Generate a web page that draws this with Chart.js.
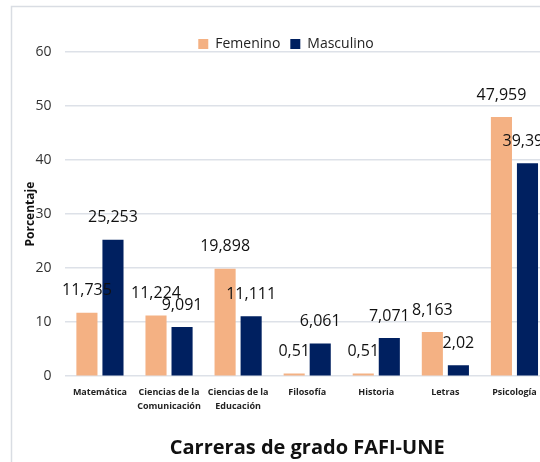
<!DOCTYPE html>
<html>
<head>
<meta charset="utf-8">
<script src="https://cdn.jsdelivr.net/npm/chart.js@4.4.1/dist/chart.umd.min.js"></script>
<style>
    html, body { margin: 0; padding: 0; background: #fff; overflow: hidden; }
    #wrap { width: 540px; height: 462px; overflow: hidden; }
    canvas { display: block; }
</style>
</head>
<body>
<div id="wrap"><canvas id="careerChart" width="560" height="462"></canvas></div>
<script>
const carreras = [
    'Matemática',
    ['Ciencias de la', 'Comunicación'],
    ['Ciencias de la', 'Educación'],
    'Filosofía',
    'Historia',
    'Letras',
    'Psicología'
];
const femenino = [11.735, 11.224, 19.898, 0.51, 0.51, 8.163, 47.959];
const masculino = [25.253, 9.091, 11.111, 6.061, 7.071, 2.02, 39.394];
const yTicks = [0, 10, 20, 30, 40, 50, 60];

// light grey frame around the whole chart, like the Excel chart area
const frame = {
    id: 'frame',
    beforeDraw(chart) {
        const ctx = chart.ctx;
        ctx.save();
        ctx.strokeStyle = '#d9dde3';
        ctx.lineWidth = 1.5;
        ctx.strokeRect(11.5, 6.5, 600, 500);
        ctx.restore();
    }
};

// let the plot start closer under the legend (legend keeps its own spacing)
const tightLegend = {
    id: 'tightLegend',
    beforeLayout(chart) {
        const lg = chart.legend;
        if (lg && !lg._tight) {
            const fit = lg.fit.bind(lg);
            lg.fit = function () {
                fit();
                this.height -= 9;
            };
            lg._tight = true;
        }
    }
};

// value labels above each bar, decimal comma
const valueLabels = {
    id: 'valueLabels',
    afterDatasetsDraw(chart) {
        const ctx = chart.ctx;
        ctx.save();
        ctx.font = '16px "Open Sans"';
        ctx.fillStyle = '#111';
        ctx.textAlign = 'center';
        ctx.textBaseline = 'middle';
        chart.data.datasets.forEach((ds, i) => {
            chart.getDatasetMeta(i).data.forEach((bar, j) => {
                const txt = String(ds.data[j]).replace('.', ',');
                ctx.fillText(txt, bar.x, bar.y - 22);
            });
        });
        ctx.restore();
    }
};

new Chart(document.getElementById('careerChart'), {
    type: 'bar',
    data: {
        labels: carreras,
        datasets: [
            { label: 'Femenino', data: femenino, backgroundColor: '#f4b183' },
            { label: 'Masculino', data: masculino, backgroundColor: '#002060' }
        ]
    },
    options: {
        responsive: false,
        animation: false,
        layout: { padding: { top: 27, left: 23, right: 11, bottom: 2 } },
        datasets: {
            bar: { categoryPercentage: 0.754, barPercentage: 0.81 }
        },
        plugins: {
            legend: {
                position: 'top',
                labels: {
                    boxWidth: 10,
                    boxHeight: 10,
                    padding: 10,
                    color: '#222',
                    font: { family: 'Open Sans', size: 14 }
                }
            },
            tooltip: { enabled: false }
        },
        scales: {
            x: {
                grid: { display: false, drawTicks: false },
                border: { display: false },
                ticks: {
                    color: '#222',
                    padding: 9,
                    maxRotation: 0,
                    autoSkip: false,
                    font: { family: 'Open Sans', size: 9, weight: 'bold', lineHeight: 1.6 }
                },
                title: {
                    display: true,
                    text: 'Carreras de grado FAFI-UNE',
                    color: '#111',
                    padding: { top: 13, bottom: 0 },
                    font: { family: 'Open Sans', size: 20, weight: 'bold' }
                }
            },
            y: {
                min: 0,
                max: 60,
                afterBuildTicks(axis) {
                    axis.ticks = yTicks.map(v => ({ value: v }));
                },
                grid: { color: '#dde1e8', lineWidth: 1.5, drawTicks: false },
                border: { display: false },
                ticks: {
                    color: '#333',
                    padding: 14,
                    font: { family: 'Open Sans', size: 14 }
                },
                title: {
                    display: true,
                    text: 'Porcentaje',
                    color: '#111',
                    padding: { top: 0, bottom: -16 },
                    font: { family: 'Open Sans', size: 12, weight: 'bold' }
                }
            }
        }
    },
    plugins: [frame, tightLegend, valueLabels]
});
</script>
</body>
</html>
